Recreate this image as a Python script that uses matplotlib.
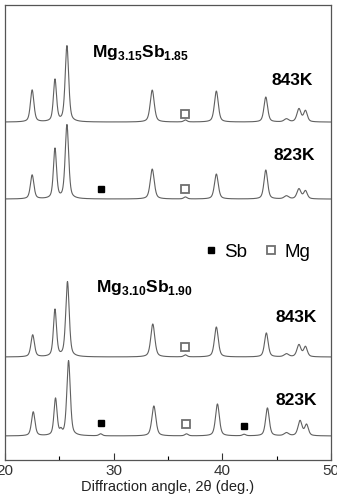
import numpy as np
import matplotlib.pyplot as plt
from matplotlib.lines import Line2D

plt.rcParams['font.family'] = ['Liberation Sans', 'DejaVu Sans']
plt.rcParams['mathtext.fontset'] = 'custom'
plt.rcParams['mathtext.rm'] = 'Liberation Sans'
plt.rcParams['mathtext.bf'] = 'Liberation Sans:bold'

# peak positions (2theta), heights (offset units) and half widths per pattern
pos_a = [22.5, 24.6, 25.7, 33.55, 36.6, 39.45, 44.0, 45.9, 47.05, 47.65]
hgt_843_a = [32, 42, 76, 32, 2, 31, 25, 3, 13, 11]
hgt_823_a = [24, 50, 74, 30, 2, 25, 29, 3, 10, 8]
pos_b = [22.55, 24.6, 25.75, 33.6, 36.6, 39.45, 44.05, 45.9, 47.05, 47.65]
hgt_843_b = [22, 47, 75, 33, 2, 30, 24, 3, 12, 10]
pos_c = [22.6, 24.65, 25.15, 25.85, 28.8, 33.7, 36.7, 39.55, 42.0, 44.15, 45.9, 47.15, 47.75]
hgt_823_b = [24, 37, 4, 75, 2, 30, 2, 32, 1.5, 28, 3, 15, 11]
wid_a = [0.19, 0.17, 0.19, 0.22, 0.18, 0.21, 0.2, 0.25, 0.22, 0.2]
wid_c = [0.19, 0.17, 0.12, 0.19, 0.18, 0.22, 0.18, 0.21, 0.18, 0.2, 0.25, 0.22, 0.2]

patterns = [
    (pos_a, hgt_843_a, wid_a, 338),
    (pos_a, hgt_823_a, wid_a, 261),
    (pos_b, hgt_843_b, wid_a, 103),
    (pos_c, hgt_823_b, wid_c, 24),
]

# phase markers
sb_x = [28.8, 28.8, 42.0]
sb_y = [271, 37, 34]
mg_x = [36.6, 36.6, 36.6, 36.7]
mg_y = [346, 271, 113, 36]

labels = [
    (28.0, 408, r'Mg$_{\mathbf{3.15}}$Sb$_{\mathbf{1.85}}$'),
    (28.4, 173, r'Mg$_{\mathbf{3.10}}$Sb$_{\mathbf{1.90}}$'),
]
temps = [(48.35, 380, '843K'), (48.5, 305, '823K'), (48.7, 143, '843K'), (48.75, 60, '823K')]

x = np.linspace(20, 50, 3000)

fig = plt.figure(figsize=(3.37, 4.96), dpi=100)
ax = fig.add_axes([0.0148, 0.0726, 0.9674, 0.917])

for p, h, w, off in patterns:
    y = np.full_like(x, off)
    for c, hh, ww in zip(p, h, w):
        d = (x - c) / ww
        y += hh * (0.5 / (1 + d ** 2) + 0.5 * np.exp(-np.log(2) * d ** 2))
    ax.plot(x, y, color='#606060', lw=0.8)

ax.plot(sb_x, sb_y, 's', ms=5, mfc='black', mec='black', ls='none')
ax.plot(mg_x, mg_y, 's', ms=5.5, mfc='white', mec='#707070', mew=1.3, ls='none')

for xx, yy, t in labels:
    ax.text(xx, yy, t, fontsize=12.5, fontweight='bold', va='center', ha='left')
for xx, yy, t in temps:
    ax.text(xx, yy, t, fontsize=12.5, fontweight='bold', va='center', ha='right')

handles = [Line2D([], [], marker='s', ms=5, mfc='black', mec='black', ls='none'),
           Line2D([], [], marker='s', ms=5.5, mfc='white', mec='#707070', mew=1.3, ls='none')]
ax.legend(handles, ['Sb', 'Mg'], ncol=2, frameon=False, fontsize=13.5,
          loc='center', bbox_to_anchor=(0.775, 0.457),
          handlelength=0.6, handletextpad=0.4, columnspacing=1.0)

ax.set_xlim(20, 50)
ax.set_ylim(0, 455)
ax.set_yticks([])
ax.set_xticks([20, 30, 40, 50])
ax.set_xticks([25, 35, 45], minor=True)
ax.tick_params(axis='x', direction='in', length=5, width=0.8, labelsize=11, pad=3, colors='#333333')
ax.tick_params(axis='x', which='minor', direction='in', length=3, width=0.8)
for s in ax.spines.values():
    s.set_color('#555555')
    s.set_linewidth(0.9)
ax.set_xlabel('Diffraction angle, 2\u03b8 (deg.)', fontsize=10.5, labelpad=1, color='#222222')

fig.savefig('out.png', dpi=100)
